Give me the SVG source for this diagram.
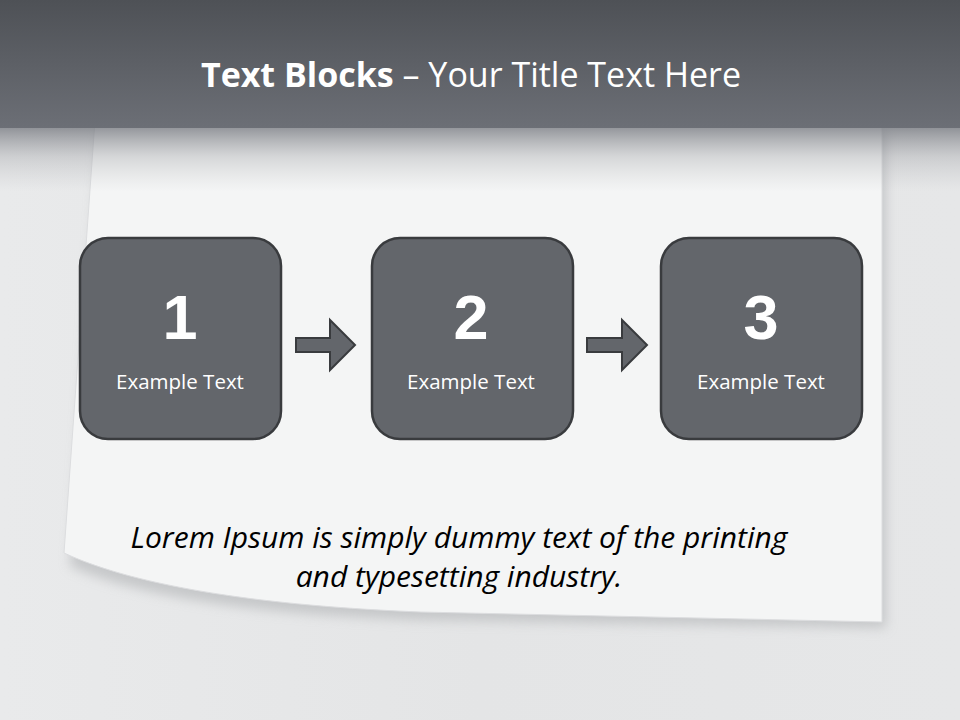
<svg xmlns="http://www.w3.org/2000/svg" width="960" height="720" viewBox="0 0 960 720">
  <defs>
    <linearGradient id="hdr" x1="0" y1="0" x2="0" y2="1">
      <stop offset="0" stop-color="#4e5156"/>
      <stop offset="1" stop-color="#6c6f76"/>
    </linearGradient>
    <linearGradient id="shade" x1="0" y1="0" x2="0" y2="1">
      <stop offset="0" stop-color="#6c6f76" stop-opacity="0.7"/>
      <stop offset="0.45" stop-color="#8e9095" stop-opacity="0.3"/>
      <stop offset="1" stop-color="#b0b2b5" stop-opacity="0"/>
    </linearGradient>
    <linearGradient id="bg" x1="0" y1="0" x2="1" y2="0">
      <stop offset="0" stop-color="#e9eaeb"/>
      <stop offset="0.5" stop-color="#e4e5e6"/>
      <stop offset="1" stop-color="#e6e7e8"/>
    </linearGradient>
    <filter id="blur" x="-10%" y="-10%" width="120%" height="130%">
      <feGaussianBlur stdDeviation="6"/>
    </filter>
    <style>
      .box { fill: #63666b; stroke: #393b3e; stroke-width: 2.5; }
      .arrow { fill: #63666b; stroke: #393b3e; stroke-width: 2; stroke-linejoin: miter; }
      .num { font-family: "Liberation Sans", Arial, sans-serif; font-weight: bold; font-size: 63px; fill: #ffffff; text-anchor: middle; }
      .lbl { font-family: "Open Sans", "Noto Sans", sans-serif; font-size: 20.5px; fill: #ffffff; text-anchor: middle; }
      .title { font-family: "Open Sans", "Noto Sans", sans-serif; font-size: 34px; fill: #ffffff; text-anchor: middle; }
      .body { font-family: "Open Sans", "Noto Sans", sans-serif; font-style: italic; font-size: 30px; fill: #000000; text-anchor: middle; }
    </style>
  </defs>

  <!-- background -->
  <rect x="0" y="0" width="960" height="720" fill="url(#bg)"/>

  <!-- paper shadow -->
  <path d="M100,130 L886,130 L886,628 L420,620 C260,614 140,598 70,566 Z" fill="#b8babc" opacity="0.7" filter="url(#blur)"/>
  <!-- paper -->
  <path d="M95,120 L882,120 L882,622 L420,612 C270,606 140,588 64,553 Z" fill="#f4f5f5" stroke="#dcdddf" stroke-width="1"/>

  <!-- header -->
  <rect x="0" y="0" width="960" height="128" fill="url(#hdr)"/>
  <rect x="0" y="128" width="960" height="64" fill="url(#shade)"/>

  <text class="title" x="471" y="87"><tspan font-weight="bold">Text Blocks</tspan> – Your Title Text Here</text>

  <g id="connectors">
    <path class="arrow" d="M296,338 L330,338 L330,320 L355,345 L330,370 L330,352 L296,352 Z"/>
    <path class="arrow" d="M587,338 L622,338 L622,320 L647,345 L622,370 L622,352 L587,352 Z"/>
  </g>

  <g id="node1">
    <rect class="box" x="80" y="238" width="201" height="201" rx="28" ry="28"/>
    <text class="num" x="180" y="339">1</text>
    <text class="lbl" x="180" y="389">Example Text</text>
  </g>
  <g id="node2">
    <rect class="box" x="372" y="238" width="201" height="201" rx="28" ry="28"/>
    <text class="num" x="471" y="339">2</text>
    <text class="lbl" x="471" y="389">Example Text</text>
  </g>
  <g id="node3">
    <rect class="box" x="661" y="238" width="201" height="201" rx="28" ry="28"/>
    <text class="num" x="761" y="339">3</text>
    <text class="lbl" x="761" y="389">Example Text</text>
  </g>

  <g id="caption">
    <text class="body" x="459" y="548">Lorem Ipsum is simply dummy text of the printing</text>
    <text class="body" x="459" y="587">and typesetting industry.</text>
  </g>
</svg>
